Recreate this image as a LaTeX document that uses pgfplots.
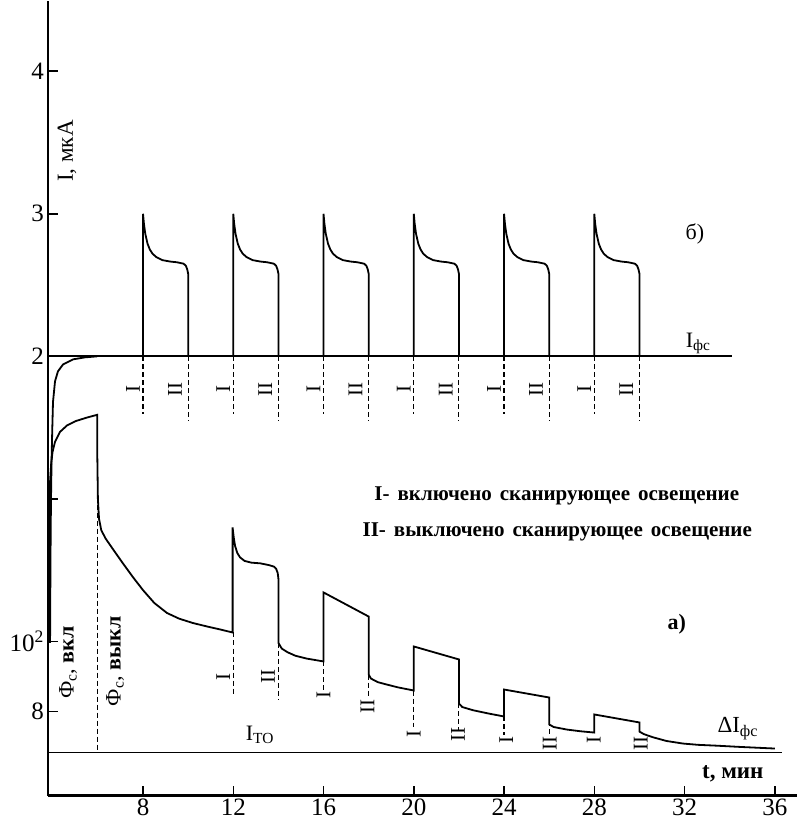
\documentclass[border=0pt]{standalone}
\usepackage{pgfplots}
\pgfplotsset{compat=1.18}
\usepackage{fontspec}
\setmainfont{Liberation Serif}
\begin{document}
\begin{tikzpicture}
\begin{axis}[
  scale only axis, width=749pt, height=794pt,
  xmin=3.79, xmax=37.0, ymin=-1.081, ymax=4.491,
  axis x line=bottom, axis y line=left,
  axis line style={line width=2.5pt, -},
  xtick={8,12,16,20,24,28,32,36},
  xticklabels={8,12,16,20,24,28,32,36},
  ytick={-0.49,0,1,2,3,4},
  yticklabels={8,10\textsuperscript{2},,2,3,4},
  tick align=inside, major tick length=10pt,
  tick style={line width=1.5pt, black},
  tick label style={font=\fontsize{25}{25}\selectfont},
  xticklabel style={anchor=north, inner sep=0pt, yshift=-3pt},
  yticklabel style={inner sep=4pt},
  clip=false,
]
% bounding box extension
\path (rel axis cs:-0.0641,1) -- (rel axis cs:1,-0.032);
% baselines
\addplot[black, line width=1.8pt] coordinates {(3.79,2) (34.1,2)};
\addplot[black, line width=1.6pt] coordinates {(3.79,-0.779) (36.31,-0.779)};
% upper curve (b) initial rise
\addplot[black, line width=1.8pt] coordinates {(3.88,-0.01) (3.90,0.6) (3.92,0.98) (3.95,1.3) (3.98,1.5) (4.01,1.68) (4.10,1.825) (4.23,1.895) (4.46,1.944) (4.90,1.979) (5.43,1.993) (5.96,2.0)};
% upper pulses
\addplot[black, line width=1.8pt] coordinates {(8,2) (8,3) (8.04,2.93) (8.1,2.86) (8.2,2.79) (8.3,2.75) (8.42,2.72) (8.6,2.695) (8.86,2.675) (9.2,2.665) (9.5,2.66) (9.8,2.65) (9.9,2.635) (9.96,2.61) (10,2.58) (10,2)};
\addplot[black, line width=1.8pt] coordinates {(12,2) (12,3) (12.04,2.93) (12.1,2.86) (12.2,2.79) (12.3,2.75) (12.42,2.72) (12.6,2.695) (12.86,2.675) (13.2,2.665) (13.5,2.66) (13.8,2.65) (13.9,2.635) (13.96,2.61) (14,2.58) (14,2)};
\addplot[black, line width=1.8pt] coordinates {(16,2) (16,3) (16.04,2.93) (16.1,2.86) (16.2,2.79) (16.3,2.75) (16.42,2.72) (16.6,2.695) (16.86,2.675) (17.2,2.665) (17.5,2.66) (17.8,2.65) (17.9,2.635) (17.96,2.61) (18,2.58) (18,2)};
\addplot[black, line width=1.8pt] coordinates {(20,2) (20,3) (20.04,2.93) (20.1,2.86) (20.2,2.79) (20.3,2.75) (20.42,2.72) (20.6,2.695) (20.86,2.675) (21.2,2.665) (21.5,2.66) (21.8,2.65) (21.9,2.635) (21.96,2.61) (22,2.58) (22,2)};
\addplot[black, line width=1.8pt] coordinates {(24,2) (24,3) (24.04,2.93) (24.1,2.86) (24.2,2.79) (24.3,2.75) (24.42,2.72) (24.6,2.695) (24.86,2.675) (25.2,2.665) (25.5,2.66) (25.8,2.65) (25.9,2.635) (25.96,2.61) (26,2.58) (26,2)};
\addplot[black, line width=1.8pt] coordinates {(28,2) (28,3) (28.04,2.93) (28.1,2.86) (28.2,2.79) (28.3,2.75) (28.42,2.72) (28.6,2.695) (28.86,2.675) (29.2,2.665) (29.5,2.66) (29.8,2.65) (29.9,2.635) (29.96,2.61) (30,2.58) (30,2)};
% lower curve (a)
\addplot[black, line width=1.8pt] coordinates {(3.88,-0.01) (3.88,1.12) (3.93,1.25) (3.99,1.33) (4.10,1.40) (4.32,1.47) (4.63,1.515) (5.0,1.545) (5.5,1.57) (5.97,1.59) (5.97,1.35) (6.0,1.0) (6.05,0.86) (6.15,0.78) (6.35,0.72) (6.7,0.64) (7.1,0.55) (7.56,0.45) (8.0,0.36) (8.5,0.27) (9.06,0.20) (9.6,0.16) (10.2,0.13) (10.84,0.105) (11.4,0.085) (11.97,0.063) (11.97,0.80) (12.02,0.73) (12.08,0.67) (12.18,0.62) (12.3,0.59) (12.5,0.565) (12.8,0.553) (13.2,0.548) (13.6,0.535) (13.8,0.525) (13.9,0.51) (13.97,0.48) (14.0,0.44) (14.0,-0.01) (14.15,-0.05) (14.4,-0.075) (14.75,-0.10) (15.25,-0.12) (16,-0.14) (16,0.344) (18,0.175) (18,-0.232) (18.1,-0.26) (18.4,-0.285) (18.75,-0.30) (19.3,-0.322) (20,-0.344) (20,-0.035) (22,-0.126) (22,-0.435) (22.15,-0.46) (22.62,-0.482) (23.3,-0.505) (24,-0.526) (24,-0.337) (26,-0.393) (26,-0.582) (26.2,-0.60) (26.79,-0.618) (27.4,-0.63) (28,-0.639) (28,-0.512) (30,-0.568) (30,-0.632) (30.2,-0.65) (30.6,-0.672) (31.2,-0.698) (31.93,-0.716) (32.6,-0.725) (33.43,-0.731) (34.5,-0.74) (36.0,-0.751)};
% dashed markers, upper
\addplot[black, line width=1.1pt, dash pattern=on 5pt off 3pt] coordinates {(8,2) (8,1.593)};
\addplot[black, line width=1.1pt, dash pattern=on 5pt off 3pt] coordinates {(10,2) (10,1.544)};
\addplot[black, line width=1.1pt, dash pattern=on 5pt off 3pt] coordinates {(12,2) (12,1.593)};
\addplot[black, line width=1.1pt, dash pattern=on 5pt off 3pt] coordinates {(14,2) (14,1.544)};
\addplot[black, line width=1.1pt, dash pattern=on 5pt off 3pt] coordinates {(16,2) (16,1.593)};
\addplot[black, line width=1.1pt, dash pattern=on 5pt off 3pt] coordinates {(18,2) (18,1.544)};
\addplot[black, line width=1.1pt, dash pattern=on 5pt off 3pt] coordinates {(20,2) (20,1.593)};
\addplot[black, line width=1.1pt, dash pattern=on 5pt off 3pt] coordinates {(22,2) (22,1.544)};
\addplot[black, line width=1.1pt, dash pattern=on 5pt off 3pt] coordinates {(24,2) (24,1.593)};
\addplot[black, line width=1.1pt, dash pattern=on 5pt off 3pt] coordinates {(26,2) (26,1.544)};
\addplot[black, line width=1.1pt, dash pattern=on 5pt off 3pt] coordinates {(28,2) (28,1.593)};
\addplot[black, line width=1.1pt, dash pattern=on 5pt off 3pt] coordinates {(30,2) (30,1.544)};
% dashed markers, lower
\addplot[black, line width=1.1pt, dash pattern=on 5pt off 3pt] coordinates {(5.97,0.96) (5.97,-0.779)};
\addplot[black, line width=1.1pt, dash pattern=on 5pt off 3pt] coordinates {(12,0.063) (12,-0.365)};
\addplot[black, line width=1.1pt, dash pattern=on 5pt off 3pt] coordinates {(14,-0.01) (14,-0.41)};
\addplot[black, line width=1.1pt, dash pattern=on 5pt off 3pt] coordinates {(16,-0.14) (16,-0.351)};
\addplot[black, line width=1.1pt, dash pattern=on 5pt off 3pt] coordinates {(18,-0.232) (18,-0.40)};
\addplot[black, line width=1.1pt, dash pattern=on 5pt off 3pt] coordinates {(20,-0.344) (20,-0.597)};
\addplot[black, line width=1.1pt, dash pattern=on 5pt off 3pt] coordinates {(22,-0.435) (22,-0.618)};
\addplot[black, line width=1.1pt, dash pattern=on 5pt off 3pt] coordinates {(24,-0.526) (24,-0.653)};
\addplot[black, line width=1.1pt, dash pattern=on 5pt off 3pt] coordinates {(26,-0.505) (26,-0.667)};
% I / II labels (rotated)
\begin{scope}[every node/.style={rotate=90, font=\fontsize{21}{21}\selectfont, inner sep=0pt}]
\node at (axis cs:7.56,1.768) {I};
\node at (axis cs:9.42,1.768) {II};
\node at (axis cs:11.56,1.768) {I};
\node at (axis cs:13.42,1.768) {II};
\node at (axis cs:15.56,1.768) {I};
\node at (axis cs:17.42,1.768) {II};
\node at (axis cs:19.56,1.768) {I};
\node at (axis cs:21.42,1.768) {II};
\node at (axis cs:23.56,1.768) {I};
\node at (axis cs:25.42,1.768) {II};
\node at (axis cs:27.56,1.768) {I};
\node at (axis cs:29.42,1.768) {II};
\node at (axis cs:11.55,-0.246) {I};
\node at (axis cs:13.54,-0.246) {II};
\node at (axis cs:16.0,-0.372) {I};
\node at (axis cs:17.95,-0.456) {II};
\node at (axis cs:20.0,-0.646) {I};
\node at (axis cs:21.96,-0.653) {II};
\node at (axis cs:24.1,-0.688) {I};
\node at (axis cs:26.03,-0.716) {II};
\node at (axis cs:27.98,-0.688) {I};
\node at (axis cs:30.06,-0.716) {II};
\end{scope}
% text annotations
\node[font=\fontsize{23}{23}\selectfont, rotate=90] at (axis cs:4.63,3.44) {I, мкА};
\node[font=\fontsize{22}{22}\selectfont] at (axis cs:32.46,2.856) {б)};
\node[font=\fontsize{22}{22}\selectfont] at (axis cs:32.6,2.09) {I\textsubscript{фс}};
\node[font=\bfseries\fontsize{21}{21}\selectfont] at (axis cs:26.34,1.018) {\spaceskip=8pt\relax I- включено сканирующее освещение};
\node[font=\bfseries\fontsize{21}{21}\selectfont] at (axis cs:26.36,0.772) {\spaceskip=8pt\relax II- выключено сканирующее освещение};
\node[font=\bfseries\fontsize{22}{22}\selectfont] at (axis cs:31.66,0.119) {а)};
\node[font=\fontsize{23}{23}\selectfont] at (axis cs:34.36,-0.61) {ΔI\textsubscript{фс}};
\node[font=\bfseries\fontsize{23}{23}\selectfont] at (axis cs:34.14,-0.926) {t, мин};
\node[font=\fontsize{22}{22}\selectfont] at (axis cs:13.18,-0.653) {I\textsubscript{TO}};
\node[font=\fontsize{22}{22}\selectfont, rotate=90] at (axis cs:4.68,-0.147) {Ф\textsubscript{с}, \textbf{вкл}};
\node[font=\fontsize{22}{22}\selectfont, rotate=90] at (axis cs:6.76,-0.14) {Ф\textsubscript{с}, \textbf{выкл}};
\end{axis}
\end{tikzpicture}
\end{document}
